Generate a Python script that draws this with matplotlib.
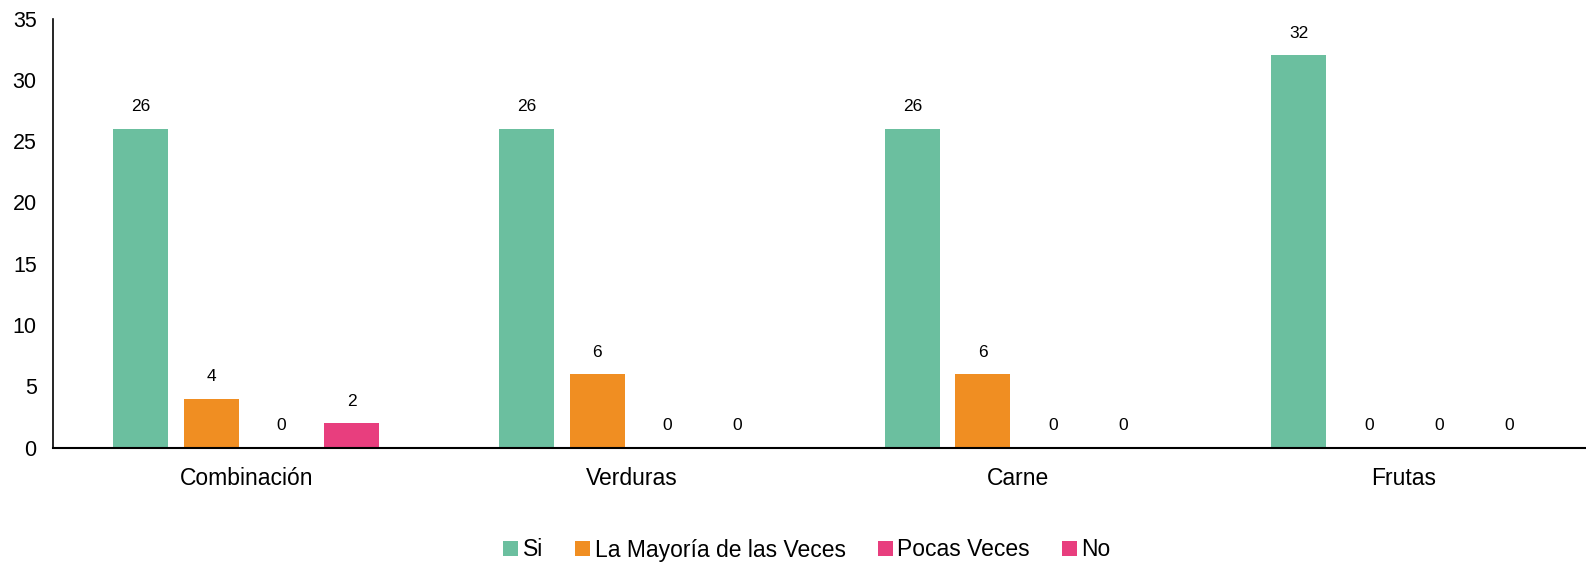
import matplotlib
import matplotlib.pyplot as plt
import numpy as np

matplotlib.use("Agg")

plt.rcParams["font.family"] = ["Liberation Sans", "DejaVu Sans"]

categories = ["Combinación", "Verduras", "Carne", "Frutas"]
series_names = ["Si", "La Mayoría de las Veces", "Pocas Veces", "No"]
si = [26, 26, 26, 32]
mayoria = [4, 6, 6, 0]
pocas = [0, 0, 0, 0]
no = [2, 0, 0, 0]
colors = ["#6BBF9F", "#F08E22", "#E83E7E", "#E83E7E"]

W, H = 1586, 563
fig = plt.figure(figsize=(W / 100, H / 100), dpi=100)
left, right_px = 53.3, 1597
top, bottom = 18.5, 447.7
ax = fig.add_axes([left / W, 1 - bottom / H, (right_px - left) / W, (bottom - top) / H])

x = np.arange(len(categories))
step = 0.182
width = 0.1425
for i, (name, vals) in enumerate(zip(series_names, [si, mayoria, pocas, no])):
    pos = x + (i - 1.5) * step
    ax.bar(pos, vals, width=width, color=colors[i], label=name)
    for xp, v in zip(pos, vals):
        ax.annotate(str(v), (xp, v), xytext=(0, 10.5), textcoords="offset points",
                    ha="center", va="bottom", fontsize=12.5)

ax.set_xlim(-0.5, 3.5)
ax.set_ylim(0, 35)
ax.set_yticks(range(0, 36, 5))
ax.set_xticks(x)
ax.set_xticklabels(categories, fontsize=16.5)
ax.tick_params(axis="y", labelsize=15.5, length=0, pad=12)
ax.tick_params(axis="x", length=0, pad=14)
for s in ["top", "right"]:
    ax.spines[s].set_visible(False)
ax.spines["left"].set_linewidth(1.2)
ax.spines["bottom"].set_linewidth(1.5)

fig.legend(loc="center", bbox_to_anchor=(807 / W, 1 - 550 / H), ncol=4, frameon=False,
           fontsize=16.5, handlelength=0.65, handleheight=0.65, handletextpad=0.2,
           columnspacing=1.4)

fig.savefig("out.png", dpi=100)
